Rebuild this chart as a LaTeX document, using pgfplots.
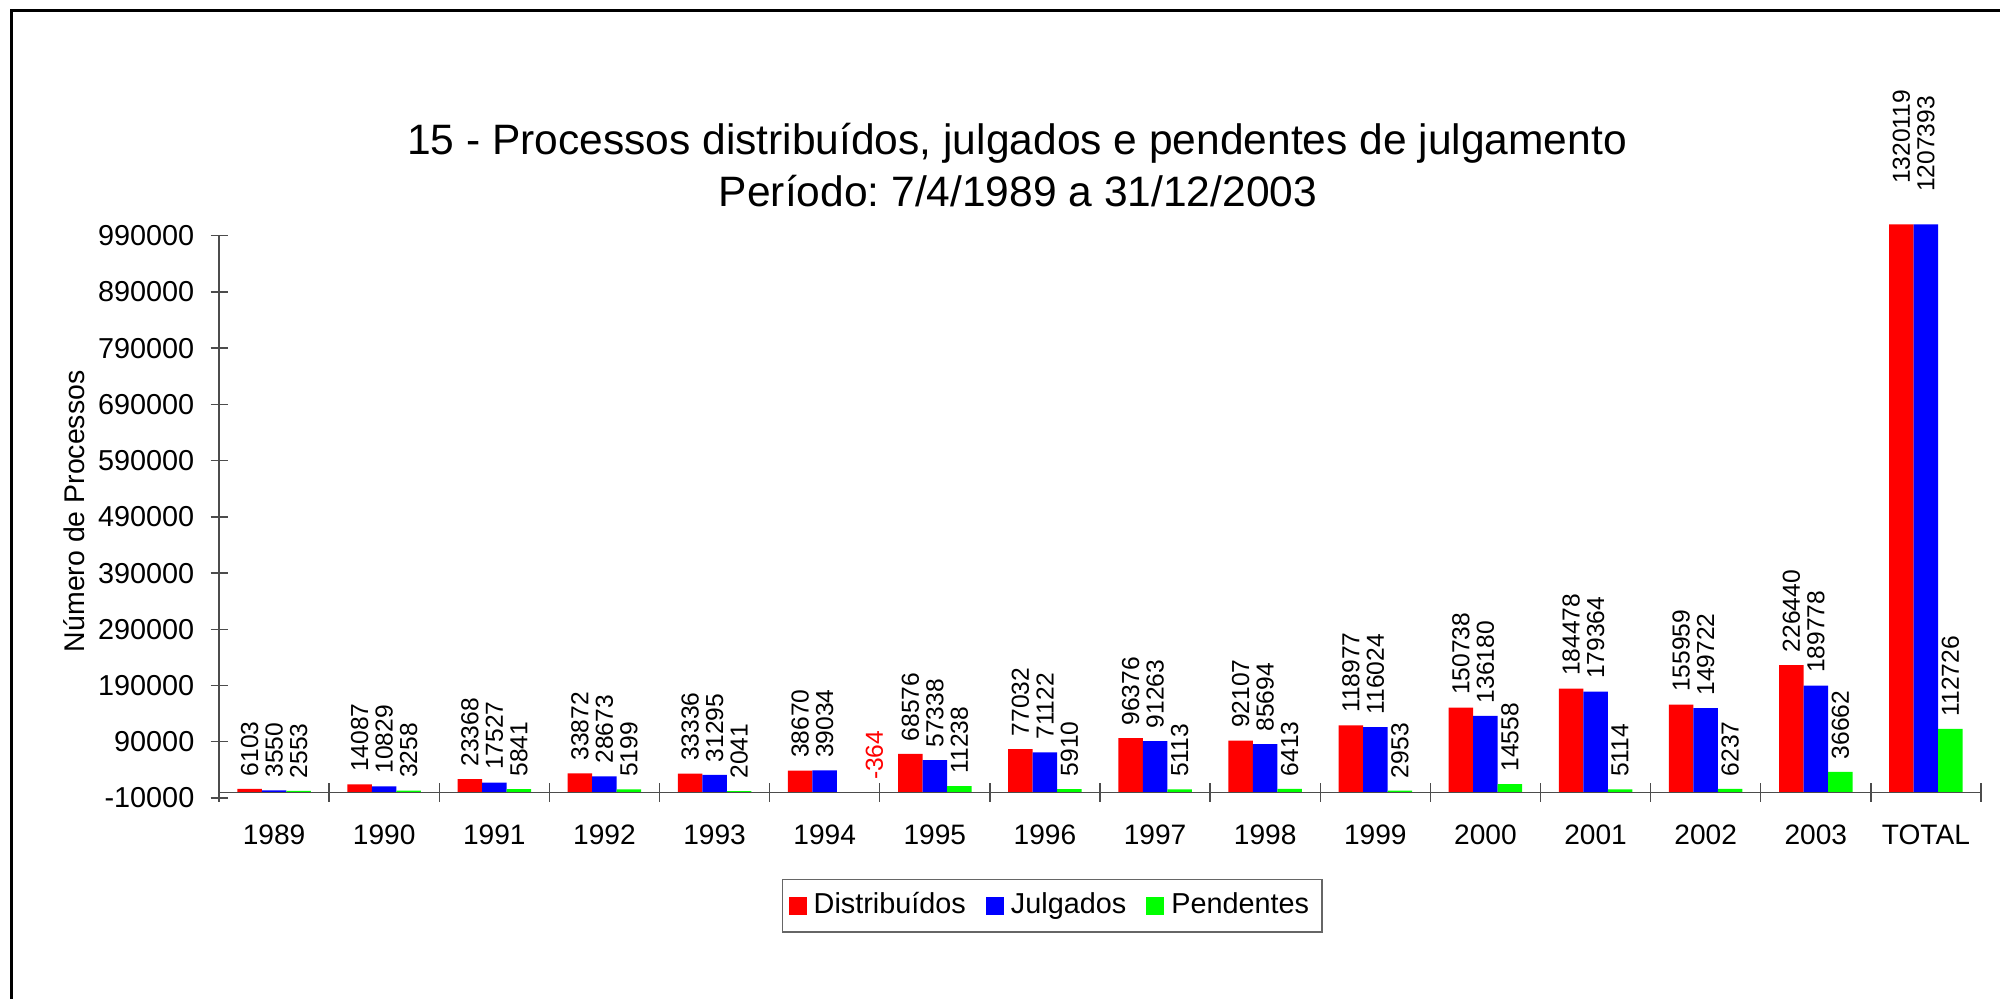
\documentclass[border=0pt]{standalone}
\usepackage{fontspec}
\setmainfont{Liberation Sans}
\usepackage{pgfplots}
\usepackage{pgfplotstable}
\pgfplotsset{compat=1.18}
\frenchspacing

% processos por ano: distribuidos, julgados, pendentes
\pgfplotstableread{
x  d       j       p
0  6103    3550    2553
1  14087   10829   3258
2  23368   17527   5841
3  33872   28673   5199
4  33336   31295   2041
5  38670   39034   -364
6  68576   57338   11238
7  77032   71122   5910
8  96376   91263   5113
9  92107   85694   6413
10 118977  116024  2953
11 150738  136180  14558
12 184478  179364  5114
13 155959  149722  6237
14 226440  189778  36662
15 1320119 1207393 112726
}\procdata

\pgfplotsset{sqleg/.style={legend image code/.code={\fill[##1] (0cm,-0.09cm) rectangle (0.18cm,0.09cm);}}}

% rotulo: acima do topo do eixo sobe um pouco; negativo em vermelho e deslocado
\newcommand\barlabel{%
  \pgfmathfloatparsenumber{1010000}\let\capv\pgfmathresult
  \pgfmathfloatlessthan{\capv}{\pgfplotspointmeta}%
  \ifpgfmathfloatcomparison
    \pgfmathfloatparsenumber{1300000}\let\capw\pgfmathresult
    \pgfmathfloatlessthan{\capw}{\pgfplotspointmeta}%
    \ifpgfmathfloatcomparison\hspace*{0.28cm}\else\hspace*{0.20cm}\fi
  \fi
  \pgfmathfloatifflags{\pgfplotspointmeta}{2}%
    {\color{red}\raisebox{-0.338cm}[0.088cm][0.088cm]{\pgfmathprintnumber{\pgfplotspointmeta}}}%
    {\pgfmathprintnumber{\pgfplotspointmeta}}}

\begin{document}
\begin{tikzpicture}
\path[use as bounding box] (0,0) rectangle (20,9.99);
\draw[line width=0.033cm] (0.115,0) -- (0.115,9.883) -- (20,9.883);

\begin{axis}[
  at={(2.19cm,2.01cm)}, anchor=south west,
  scale only axis, width=17.62cm, height=5.735cm,
  xmin=-0.5, xmax=15.5, ymin=-10000, ymax=1010000,
  clip=false,
  axis line style={draw=none},
  ybar=0pt, bar width=0.245cm,
  xtick={0,...,15},
  xticklabels={1989,1990,1991,1992,1993,1994,1995,1996,1997,1998,1999,2000,2001,2002,2003,TOTAL},
  x tick style={draw=none},
  xticklabel style={anchor=center, yshift=-0.20cm, font=\fontsize{8}{9.6}\selectfont},
  ytick={-10000,90000,...,990000},
  ytick pos=left, ytick align=center, major tick length=0.17cm,
  y tick style={black!70, line width=0.4pt},
  yticklabel style={anchor=east, inner sep=0pt, xshift=-0.155cm, font=\fontsize{8.2}{9.8}\selectfont},
  scaled y ticks=false,
  /pgf/number format/fixed,
  /pgf/number format/precision=0,
  /pgf/number format/1000 sep={},
  /pgf/number format/assume math mode=true,
  ylabel={Número de Processos},
  ylabel style={at={(axis description cs:-0.0823,0.5)}, anchor=center, font=\fontsize{8.1}{9.7}\selectfont},
  point meta=explicit,
  nodes near coords={\barlabel},
  nodes near coords align={west},
  nodes near coords style={rotate=90, anchor=west, inner xsep=0.12cm, inner ysep=0pt, font=\fontsize{7}{8.4}\selectfont, text=black},
  legend columns=3,
  legend style={at={(0.473,-0.188)}, anchor=center, draw=black!60, line width=0.4pt,
    font=\fontsize{8.2}{9.8}\selectfont, inner xsep=0.06cm, inner ysep=0.06cm,
    /tikz/every even column/.append style={column sep=0.13cm}},
]
% barras acima do topo ficam cortadas no limite do eixo
\addplot[fill=red, draw=none, sqleg] table[x=x, y expr={min(\thisrow{d},1010000)}, meta=d] {\procdata};
\addplot[fill=blue, draw=none, sqleg] table[x=x, y expr={min(\thisrow{j},1010000)}, meta=j] {\procdata};
\addplot[fill=green, draw=none, sqleg] table[x=x, y=p, meta=p] {\procdata};
\legend{Distribuídos, Julgados, Pendentes}

\coordinate (yb) at (axis cs:-0.5,-10000);
\coordinate (yt) at (axis cs:-0.5,990000);
\coordinate (x0) at (axis cs:-0.5,0);
\coordinate (x1) at (axis cs:15.5,0);
\end{axis}

% eixos desenhados por cima das barras
\draw[black!70, line width=0.4pt] (yb) -- (yt);
\draw[black!70, line width=0.4pt] (x0) -- (x1);
\foreach \i in {0,...,16} {
  \draw[black!70, line width=0.4pt] ([xshift=\i*1.10125cm, yshift=-0.095cm]x0) -- ++(0,0.185cm);
}

\node[anchor=base, font=\fontsize{12.1}{14.5}\selectfont] at (10.17,8.44) {15 - Processos distribuídos, julgados e pendentes de julgamento};
\node[anchor=base, font=\fontsize{12.1}{14.5}\selectfont] at (10.18,7.92) {Período: 7/4/1989 a 31/12/2003};
\end{tikzpicture}
\end{document}
